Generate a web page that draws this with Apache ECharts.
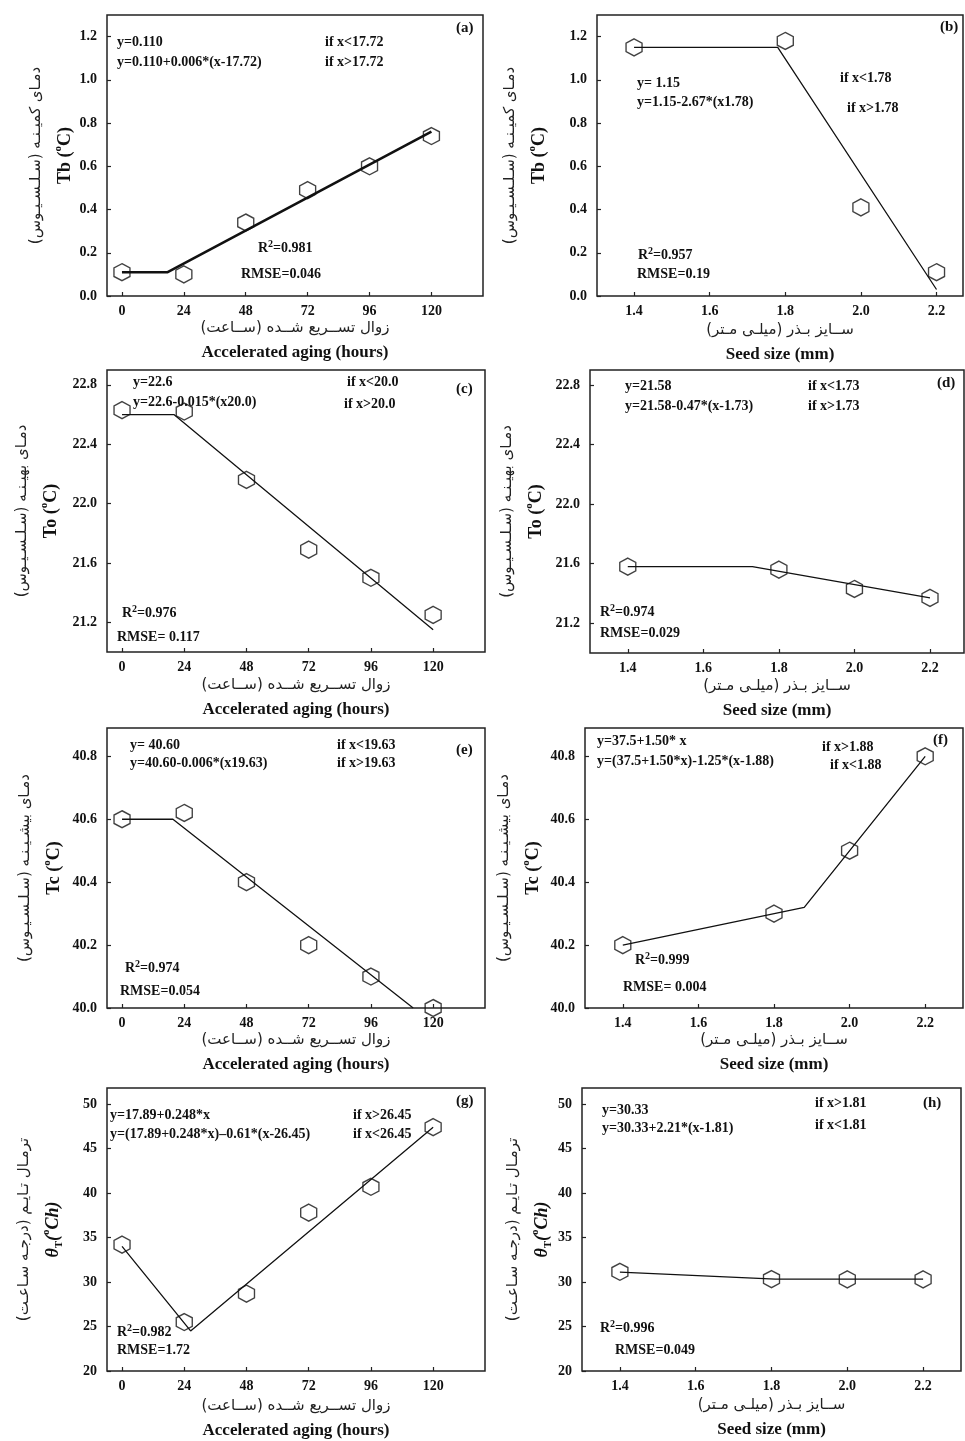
<!DOCTYPE html>
<html><head><meta charset="utf-8">
<script src="https://cdn.jsdelivr.net/npm/echarts@6/dist/echarts.min.js"></script>
<style>html,body{margin:0;padding:0;background:#fff}#c{width:965px;height:1441px}</style>
</head><body><div id="c"></div>
<script>
// ---------- tick labels ----------
const agingTicks = [0, 24, 48, 72, 96, 120];
const seedTicks = [1.4, 1.6, 1.8, 2.0, 2.2];
const tbTicks = [0.0, 0.2, 0.4, 0.6, 0.8, 1.0, 1.2];
const toTicks = [21.2, 21.6, 22.0, 22.4, 22.8];
const tcTicks = [40.0, 40.2, 40.4, 40.6, 40.8];
const thetaTicks = [20, 25, 30, 35, 40, 45, 50];

// ---------- categories (x values) ----------
const agingHours = [0, 24, 48, 72, 96, 120];
const seedSizes = [1.4, 1.8, 2.0, 2.2];

// ---------- observed values ----------
const tbAging = [0.11, 0.10, 0.34, 0.49, 0.60, 0.74];
const tbSeed = [1.15, 1.18, 0.41, 0.11];
const toAging = [22.63, 22.62, 22.16, 21.69, 21.50, 21.25];
const toSeed = [21.58, 21.56, 21.43, 21.37];
const tcAging = [40.60, 40.62, 40.40, 40.20, 40.10, 40.00];
const tcSeed = [40.20, 40.30, 40.50, 40.80];
const thetaAging = [34.2, 25.5, 28.7, 37.8, 40.7, 47.4];
const thetaSeed = [31.15, 30.33, 30.3, 30.3];

// ---------- fitted segmented lines ----------
const tbAgingFitX = [0, 17.72, 120];   const tbAgingFitY = [0.11, 0.11, 0.76];
const tbSeedFitX = [1.4, 1.78, 2.2];   const tbSeedFitY = [1.15, 1.15, 0.03];
const toAgingFitX = [0, 20.0, 120];    const toAgingFitY = [22.6, 22.6, 21.15];
const toSeedFitX = [1.4, 1.73, 2.2];   const toSeedFitY = [21.58, 21.58, 21.37];
const tcAgingFitX = [0, 19.63, 112.3]; const tcAgingFitY = [40.6, 40.6, 40.0];
const tcSeedFitX = [1.4, 1.88, 2.2];   const tcSeedFitY = [40.2, 40.32, 40.8];
const thetaAgingFitX = [0, 26.45, 120]; const thetaAgingFitY = [34.0, 24.5, 47.4];
const thetaSeedFitX = [1.4, 1.81, 2.2]; const thetaSeedFitY = [31.1, 30.33, 30.33];

// ---------- texts ----------
const RLM = '\u200F';
const faAging = 'زوال تســریع شــده (ســاعت)';
const faSeed = 'ســایز بـذر (میلـی مـتر)';
const enAging = 'Accelerated aging (hours)';
const enSeed = 'Seed size (mm)';
const faTb = 'دمـای کمیـنـه (سـلـسـیـوس)';
const faTo = 'دمـای بهیـنـه (سـلـسـیـوس)';
const faTc = 'دمـای بیشـیـنـه (سـلـسـیـوس)';
const faTheta = 'ترمـال تـایـم (درجـه سـاعـت)';

const SERIF = '"Liberation Serif", "Times New Roman", serif';
const FA = '"DejaVu Sans", sans-serif';
const HEX = 'path://M0,-1 L0.866,-0.5 L0.866,0.5 L0,1 L-0.866,0.5 L-0.866,-0.5 Z';

const panels = [
  {lab:'(a)', g:[107,15,376,281], xk:'aging', xr:[-5.8,140], yr:[0,1.3], yT:tbTicks, yDec:1, ox:agingHours, oy:tbAging, fx:tbAgingFitX, fy:tbAgingFitY, lw:2.6, yn:'Tb', fa:faTb, yGap:30, xGap:22,
   eq:['y=0.110','y=0.110+0.006*(x-17.72)'], eqPos:[117,42,62], ifs:['if x<17.72','if x>17.72'], ifPos:[[325,42],[325,62]], labPos:[456,28],
   r2:'0.981', r2Pos:[258,248], rm:'RMSE=0.046', rmPos:[241,274]},
  {lab:'(b)', g:[597,15,366,281], xk:'seed', xr:[1.302,2.27], yr:[0,1.3], yT:tbTicks, yDec:1, ox:seedSizes, oy:tbSeed, fx:tbSeedFitX, fy:tbSeedFitY, lw:1.3, yn:'Tb', fa:faTb, yGap:46, xGap:24,
   eq:['y= 1.15','y=1.15-2.67*(x1.78)'], eqPos:[637,83,102], ifs:['if x<1.78','if x>1.78'], ifPos:[[840,78],[847,108]], labPos:[940,27],
   r2:'0.957', r2Pos:[638,255], rm:'RMSE=0.19', rmPos:[637,274]},
  {lab:'(c)', g:[107,370,378,282], xk:'aging', xr:[-5.8,140], yr:[21.0,22.9], yT:toTicks, yDec:1, ox:agingHours, oy:toAging, fx:toAgingFitX, fy:toAgingFitY, lw:1.3, yn:'To', fa:faTo, yGap:44, xGap:23,
   eq:['y=22.6','y=22.6-0.015*(x20.0)'], eqPos:[133,382,402], ifs:['if x<20.0','if x>20.0'], ifPos:[[347,382],[344,404]], labPos:[456,389],
   r2:'0.976', r2Pos:[122,613], rm:'RMSE= 0.117', rmPos:[117,637]},
  {lab:'(d)', g:[590,370,374,283], xk:'seed', xr:[1.3,2.29], yr:[21.0,22.9], yT:toTicks, yDec:1, ox:seedSizes, oy:toSeed, fx:toSeedFitX, fy:toSeedFitY, lw:1.3, yn:'To', fa:faTo, yGap:42, xGap:23,
   eq:['y=21.58','y=21.58-0.47*(x-1.73)'], eqPos:[625,386,406], ifs:['if x<1.73','if x>1.73'], ifPos:[[808,386],[808,406]], labPos:[937,383],
   r2:'0.974', r2Pos:[600,612], rm:'RMSE=0.029', rmPos:[600,633]},
  {lab:'(e)', g:[107,728,378,280], xk:'aging', xr:[-5.8,140], yr:[40.0,40.89], yT:tcTicks, yDec:1, ox:agingHours, oy:tcAging, fx:tcAgingFitX, fy:tcAgingFitY, lw:1.3, yn:'Tc', fa:faTc, yGap:41, xGap:22,
   eq:['y= 40.60','y=40.60-0.006*(x19.63)'], eqPos:[130,745,763], ifs:['if x<19.63','if x>19.63'], ifPos:[[337,745],[337,763]], labPos:[456,750],
   r2:'0.974', r2Pos:[125,968], rm:'RMSE=0.054', rmPos:[120,991]},
  {lab:'(f)', g:[585,728,378,280], xk:'seed', xr:[1.3,2.3], yr:[40.0,40.89], yT:tcTicks, yDec:1, ox:seedSizes, oy:tcSeed, fx:tcSeedFitX, fy:tcSeedFitY, lw:1.3, yn:'Tc', fa:faTc, yGap:40, xGap:22,
   eq:['y=37.5+1.50* x','y=(37.5+1.50*x)-1.25*(x-1.88)'], eqPos:[597,741,761], ifs:['if x>1.88','if x<1.88'], ifPos:[[822,747],[830,765]], labPos:[933,740],
   r2:'0.999', r2Pos:[635,960], rm:'RMSE= 0.004', rmPos:[623,987]},
  {lab:'(g)', g:[107,1088,378,283], xk:'aging', xr:[-5.8,140], yr:[20,51.8], yT:thetaTicks, yDec:0, ox:agingHours, oy:thetaAging, fx:thetaAgingFitX, fy:thetaAgingFitY, lw:1.3, yn:'theta', fa:faTheta, yGap:42, xGap:25,
   eq:['y=17.89+0.248*x','y=(17.89+0.248*x)\u20130.61*(x-26.45)'], eqPos:[110,1115,1134], ifs:['if x>26.45','if x<26.45'], ifPos:[[353,1115],[353,1134]], labPos:[456,1101],
   r2:'0.982', r2Pos:[117,1332], rm:'RMSE=1.72', rmPos:[117,1350]},
  {lab:'(h)', g:[582,1088,379,283], xk:'seed', xr:[1.3,2.3], yr:[20,51.8], yT:thetaTicks, yDec:0, ox:seedSizes, oy:thetaSeed, fx:thetaSeedFitX, fy:thetaSeedFitY, lw:1.3, yn:'theta', fa:faTheta, yGap:27, xGap:24,
   eq:['y=30.33','y=30.33+2.21*(x-1.81)'], eqPos:[602,1110,1128], ifs:['if x>1.81','if x<1.81'], ifPos:[[815,1103],[815,1125]], labPos:[923,1103],
   r2:'0.996', r2Pos:[600,1328], rm:'RMSE=0.049', rmPos:[615,1350]}
];

const grids = [], xAxes = [], yAxes = [], series = [], graphics = [];
const rich = {
  fa: {fontFamily: FA, fontSize: 15, color: '#222', lineHeight: 34},
  en: {fontFamily: SERIF, fontWeight: 'bold', fontSize: 18, color: '#111', lineHeight: 24},
  it: {fontFamily: SERIF, fontWeight: 'bold', fontStyle: 'italic', fontSize: 18, color: '#111', lineHeight: 24},
  sup: {fontFamily: SERIF, fontWeight: 'bold', fontSize: 11, color: '#111', lineHeight: 12, verticalAlign: 'top'},
  sub: {fontFamily: SERIF, fontWeight: 'bold', fontSize: 11, color: '#111', lineHeight: 12, verticalAlign: 'bottom'},
  fax: {fontFamily: FA, fontSize: 15, color: '#222', lineHeight: 20},
  enx: {fontFamily: SERIF, fontWeight: 'bold', fontSize: 17, color: '#111', lineHeight: 30}
};
const eqFont = 'bold 14px ' + SERIF;

panels.forEach((p, i) => {
  grids.push({left: p.g[0], top: p.g[1], width: p.g[2], height: p.g[3], show: true, borderColor: '#222', borderWidth: 1.5, backgroundColor: 'transparent'});
  const xt = p.xk === 'aging' ? agingTicks : seedTicks;
  const xName = p.xk === 'aging'
    ? `{fax|${RLM}${faAging}${RLM}}\n{enx|${enAging}}`
    : `{fax|${RLM}${faSeed}${RLM}}\n{enx|${enSeed}}`;
  xAxes.push({
    type: 'value', gridIndex: i, min: p.xr[0], max: p.xr[1],
    axisLine: {show: false, onZero: false}, splitLine: {show: false},
    axisTick: {show: true, inside: true, length: 4, lineStyle: {color: '#222', width: 1.2}, customValues: xt},
    axisLabel: {customValues: xt, margin: 8, fontFamily: SERIF, fontWeight: 'bold', fontSize: 14, color: '#111',
      formatter: v => p.xk === 'aging' ? String(Math.round(v)) : v.toFixed(1)},
    name: xName, nameLocation: 'middle', nameGap: p.xGap, nameTextStyle: {rich: rich}
  });
  const yName = p.yn === 'theta'
    ? `{fa|${RLM}${p.fa}${RLM}}\n{it|θ}{sub|T}{it|(}{sup|o}{it|Ch)}`
    : `{fa|${RLM}${p.fa}${RLM}}\n{en|${p.yn} (}{sup|o}{en|C)}`;
  yAxes.push({
    type: 'value', gridIndex: i, min: p.yr[0], max: p.yr[1],
    axisLine: {show: false, onZero: false}, splitLine: {show: false},
    axisTick: {show: true, inside: true, length: 4, lineStyle: {color: '#222', width: 1.2}, customValues: p.yT},
    axisLabel: {customValues: p.yT, margin: 10, fontFamily: SERIF, fontWeight: 'bold', fontSize: 14, color: '#111',
      formatter: v => v.toFixed(p.yDec)},
    name: yName, nameLocation: 'middle', nameGap: p.yGap, nameRotate: 90, nameTextStyle: {rich: rich}
  });
  series.push({
    type: 'line', xAxisIndex: i, yAxisIndex: i, data: p.fx.map((x, k) => [x, p.fy[k]]),
    showSymbol: false, symbol: 'none', lineStyle: {color: '#111', width: p.lw}, silent: true, z: 2
  });
  series.push({
    type: 'scatter', xAxisIndex: i, yAxisIndex: i, data: p.ox.map((x, k) => [x, p.oy[k]]),
    symbol: HEX, symbolSize: [16, 17], itemStyle: {color: 'rgba(255,255,255,0)', borderColor: '#111', borderWidth: 1.4}, z: 3, silent: true
  });
  const T = (x, y, text) => ({type: 'text', x: x, y: y, z: 10, silent: true,
    style: {text: text, font: eqFont, fill: '#111', align: 'left', verticalAlign: 'middle'}});
  graphics.push(T(p.eqPos[0], p.eqPos[1], p.eq[0]));
  graphics.push(T(p.eqPos[0], p.eqPos[2], p.eq[1]));
  graphics.push(T(p.ifPos[0][0], p.ifPos[0][1], p.ifs[0]));
  graphics.push(T(p.ifPos[1][0], p.ifPos[1][1], p.ifs[1]));
  graphics.push({type: 'text', x: p.labPos[0], y: p.labPos[1], z: 10, silent: true,
    style: {text: p.lab, font: 'bold 15px ' + SERIF, fill: '#111', align: 'left', verticalAlign: 'middle'}});
  graphics.push(T(p.rmPos[0], p.rmPos[1], p.rm));
  graphics.push({type: 'text', x: p.r2Pos[0], y: p.r2Pos[1], z: 10, silent: true,
    style: {text: '{a|R}{s|2}{a|=' + p.r2 + '}', align: 'left', verticalAlign: 'middle',
      rich: {a: {font: eqFont, fill: '#111', lineHeight: 18}, s: {font: 'bold 10px ' + SERIF, fill: '#111', lineHeight: 10, verticalAlign: 'top'}}}});
});

const chart = echarts.init(document.getElementById('c'), null, {renderer: 'canvas'});
chart.setOption({
  backgroundColor: '#fff', animation: false,
  grid: grids, xAxis: xAxes, yAxis: yAxes, series: series, graphic: graphics
});
</script></body></html>
